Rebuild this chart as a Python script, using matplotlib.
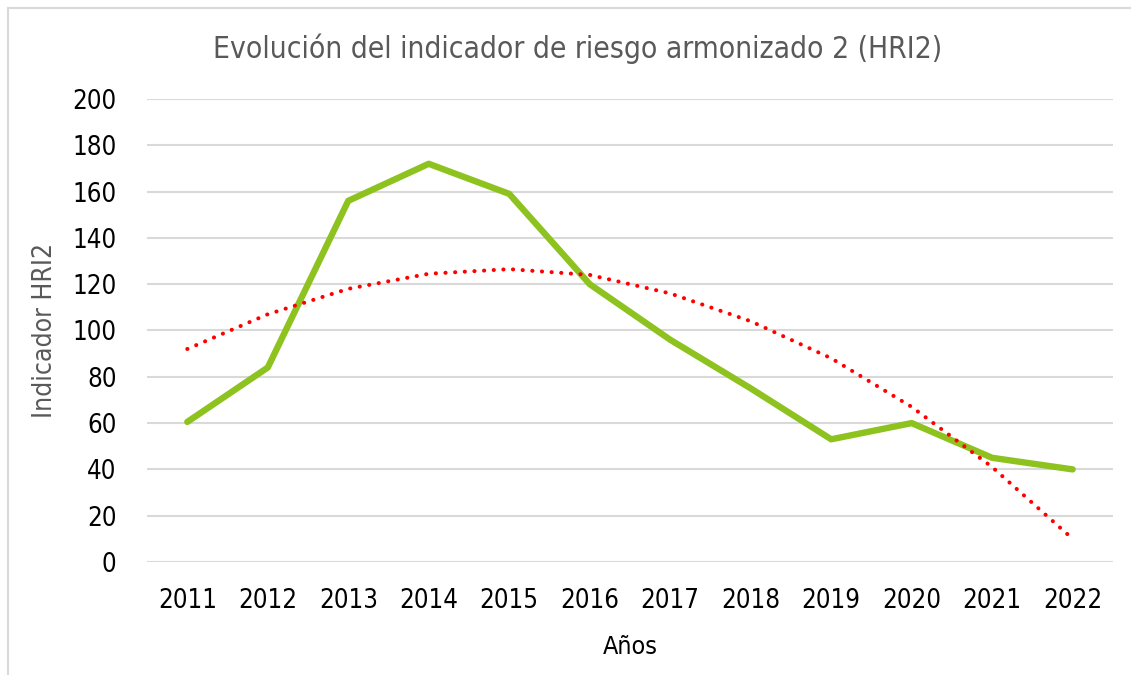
import matplotlib
matplotlib.use("Agg")
import matplotlib.pyplot as plt
from matplotlib.patches import Rectangle

years = ['2011', '2012', '2013', '2014', '2015', '2016', '2017', '2018', '2019', '2020', '2021', '2022']
hri2 = [60.5, 84, 156, 172, 159, 120, 96, 75, 53, 60, 45, 40]
# polynomial trendline values
trend = [92, 107, 118, 124.5, 126.5, 124, 116, 104, 88, 67, 41, 10]
yticks = [0, 20, 40, 60, 80, 100, 120, 140, 160, 180, 200]

plt.rcParams['font.family'] = ['DejaVu Sans']
plt.rcParams['font.stretch'] = 'condensed'

fig = plt.figure(figsize=(11.31, 6.75), dpi=100)
ax = fig.add_axes([0.130, 0.1674, 0.854, 0.686])

x = list(range(len(years)))
ax.plot(x, hri2, color='#8DC21F', linewidth=4.6, solid_capstyle='round',
        solid_joinstyle='round', clip_on=False, zorder=3)
ax.plot(x, trend, color='#FF0000', linewidth=2.9, linestyle=(0, (0.05, 2.35)),
        dash_capstyle='round', clip_on=False, zorder=4)

ax.set_xlim(-0.5, len(years) - 0.5)
ax.set_ylim(0, 200)
ax.set_xticks(x)
ax.set_xticklabels(years)
ax.set_yticks(yticks)
ax.tick_params(axis='both', length=0, labelsize=18.5, colors='black')
ax.tick_params(axis='x', pad=19)
ax.tick_params(axis='y', pad=22)
ax.grid(axis='y', color='#D9D9D9', linewidth=1.5)
ax.set_axisbelow(True)
for s in ax.spines.values():
    s.set_visible(False)

ax.set_xlabel('Años', fontsize=18, color='black', labelpad=15)
ax.set_ylabel('Indicador HRI2', fontsize=19, color='#595959', labelpad=10)
fig.text(0.511, 0.928, 'Evolución del indicador de riesgo armonizado 2 (HRI2)',
         ha='center', va='center', fontsize=21.5, color='#595959')

fig.patches.append(Rectangle((8 / 1131, -0.01), 1.02, 1 - 8 / 675 + 0.01,
                             transform=fig.transFigure, fill=False,
                             edgecolor='#D9D9D9', linewidth=1.5))

fig.savefig('out.png', dpi=100, facecolor='white')
